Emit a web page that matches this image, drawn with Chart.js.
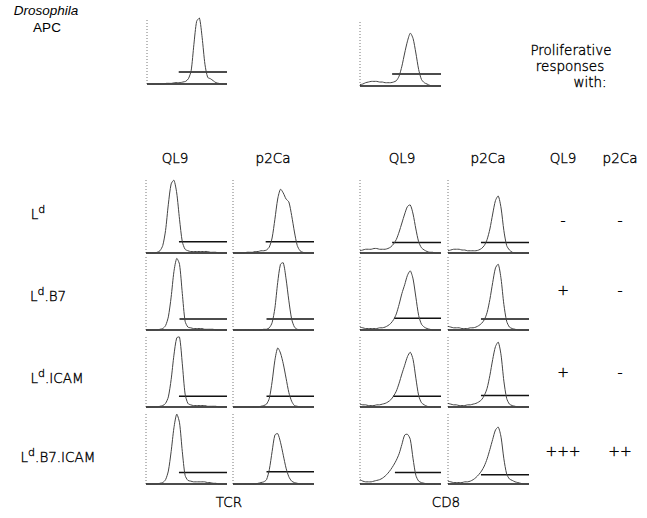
<!DOCTYPE html>
<html lang="en">
<head>
<meta charset="UTF-8">
<title>Drosophila APC proliferation</title>
<script src="https://cdn.jsdelivr.net/npm/chart.js"></script>
<style>
  body { margin: 0; background: #fff; }
  #fig { position: relative; width: 647px; height: 518px; overflow: hidden; font-family: "DejaVu Sans", sans-serif; font-weight: 200; color: #000; }
  #fig canvas { position: absolute; }
  .t { position: absolute; font-size: 13.5px; white-space: nowrap; transform: translate(-50%, -50%); -webkit-text-stroke: 0.35px #000; }
  .t sup { font-size: 11px; vertical-align: 6px; line-height: 0; }
  .apc { font-family: "Liberation Sans", Arial, sans-serif; font-weight: normal; font-size: 13.5px; -webkit-text-stroke: 0; }
  .sign { font-size: 14px; }
</style>
</head>
<body>
<div id="fig"></div>
<script>
// histogram channels (x) shared by every panel
const channels = [0,1,2,3,4,5,6,7,8,9,10,11,12,13,14,15,16,17,18,19,20,21,22,23,24,25,26,27,28,29];
const rowNames = ['L<sup>d</sup>', 'L<sup>d</sup>.B7', 'L<sup>d</sup>.ICAM', 'L<sup>d</sup>.B7.ICAM'];
const peptides = ['QL9', 'p2Ca'];
const responseQL9 = ['-', '+', '+', '+++'];
const responseP2Ca = ['-', '-', '-', '++'];

// Drosophila APC alone
const apcTCR = [0,0,0,0,0,0,0,1,1,1,2,2,2,3,4,8,20,60,95,100,70,30,10,8,5,2,1,0,0,0];
const apcCD8 = [2,3,5,6,7,7,7,6,6,5,5,5,6,8,15,30,50,68,80,72,50,25,10,5,3,1,0,0,0,0];
const apcGateStart = [11.5, 11.5];
const apcGateLevel = [18, 18];

// TCR, QL9 column (rows Ld, Ld.B7, Ld.ICAM, Ld.B7.ICAM)
const tcrQL9 = [
  [0,0,0,0,1,3,10,30,65,92,97,80,45,15,5,3,2,2,2,2,2,2,2,1,1,1,0,0,0,0],
  [0,0,0,0,0,1,2,6,18,45,80,98,90,50,12,4,3,2,2,2,2,1,1,1,1,0,0,0,0,0],
  [0,0,0,0,0,1,2,5,14,38,72,96,97,60,18,5,3,2,2,2,2,2,1,1,1,1,0,0,0,0],
  [0,0,0,0,0,1,2,6,18,45,78,97,85,45,12,5,4,3,3,3,3,3,2,2,1,1,0,0,0,0]
];
const tcrP2Ca = [
  [0,0,0,0,0,1,1,1,2,2,3,3,4,8,20,45,72,85,80,72,68,50,28,10,3,1,0,0,0,0],
  [0,0,0,0,0,0,0,0,0,0,0,1,1,3,10,30,65,90,92,70,40,15,4,1,0,0,0,0,0,0],
  [0,0,0,0,0,0,0,0,0,0,1,2,4,12,35,65,82,75,60,40,20,8,2,1,0,0,0,0,0,0],
  [0,0,0,0,0,0,0,0,0,1,2,3,6,20,45,68,70,58,40,22,10,4,2,1,0,0,0,0,0,0]
];
const cd8QL9 = [
  [3,4,5,5,5,6,6,5,5,5,6,8,12,18,28,40,52,62,64,52,32,15,7,4,2,1,1,0,0,0],
  [4,3,2,2,2,2,2,3,3,4,6,9,14,22,35,50,62,75,81,70,45,20,8,4,2,1,0,0,0,0],
  [4,3,3,2,2,2,3,3,4,5,7,10,15,22,33,46,58,70,76,66,40,16,6,3,1,0,0,0,0,0],
  [6,4,3,3,3,4,5,6,8,11,15,20,26,33,42,55,68,69,62,35,12,4,2,1,0,0,0,0,0,0]
];
const cd8P2Ca = [
  [3,4,5,5,5,4,4,3,3,3,3,4,6,10,18,32,52,70,76,60,30,10,4,1,0,0,0,0,0,0],
  [5,4,3,3,3,2,2,2,3,3,4,6,9,14,24,42,65,85,90,70,35,12,4,2,1,0,0,0,0,0],
  [5,4,3,3,2,2,2,3,3,4,5,7,10,16,26,44,66,84,90,72,36,12,4,2,1,0,0,0,0,0],
  [4,3,2,2,2,2,3,3,4,6,9,13,18,25,35,48,62,75,79,65,35,14,7,5,3,2,1,0,0,0]
];
// marker gates: start channel and height per panel
const gateStart = [[11.8,12,11.8,11.8], [11.7,12,12,12], [11.5,12.2,11.8,12.5], [11.8,11.8,11.8,11.8]];
const gateLevel = [[15,15,15,16], [15,15,15,17], [14,16,15,16], [14,15,16,13]];

// layout
const fig = document.getElementById('fig');
const colLeft = [146, 233, 360, 448];
const colW = 81;
const rowTop = [178, 257, 335, 412];
const rowBase = [253, 330, 407, 484];
const PAD = 2;

function panel(left, top, w, h, curve, gs, gl) {
  const c = document.createElement('canvas');
  c.width = w + PAD * 2; c.height = h + PAD * 2;
  c.style.left = (left - PAD) + 'px'; c.style.top = (top - PAD) + 'px';
  fig.appendChild(c);
  const last = channels[channels.length - 1];
  new Chart(c, {
    type: 'line',
    data: {
      datasets: [
        { data: channels.map((x, i) => ({ x, y: curve[i] })), borderColor: '#444', borderWidth: 1, tension: 0.25 },
        { data: [{ x: gs, y: gl }, { x: last, y: gl }], borderColor: '#111', borderWidth: 1.5 },
        { data: [{ x: 0, y: 0 }, { x: last, y: 0 }], borderColor: '#111', borderWidth: 1.5 },
        { data: [{ x: 0, y: 0 }, { x: 0, y: 100 }], borderColor: '#777', borderWidth: 1, borderDash: [1, 2] }
      ]
    },
    options: {
      responsive: false, animation: false, clip: false,
      layout: { padding: PAD },
      elements: { point: { radius: 0 } },
      plugins: { legend: { display: false }, tooltip: { enabled: false } },
      scales: {
        x: { type: 'linear', min: 0, max: last, display: false },
        y: { min: 0, max: 100, display: false }
      }
    }
  });
}

function text(html, x, y, cls) {
  const d = document.createElement('div');
  d.className = 't' + (cls ? ' ' + cls : '');
  d.innerHTML = html;
  d.style.left = x + 'px'; d.style.top = y + 'px';
  fig.appendChild(d);
}

// top row
panel(147, 18, 80, 66, apcTCR, apcGateStart[0], apcGateLevel[0]);
panel(360, 20, 81, 66, apcCD8, apcGateStart[1], apcGateLevel[1]);
text('<i>Drosophila</i>', 46, 10, 'apc');
text('APC', 47, 27, 'apc');
text('Proliferative', 571, 50);
text('responses', 570, 66);
text('with:', 590, 82);

// grid
const columns = [tcrQL9, tcrP2Ca, cd8QL9, cd8P2Ca];
columns.forEach((col, ci) => {
  col.forEach((curve, ri) => {
    panel(colLeft[ci], rowTop[ri], colW, rowBase[ri] - rowTop[ri], curve, gateStart[ci][ri], gateLevel[ci][ri]);
  });
});

const headX = [175, 273, 402, 488, 563, 620];
headX.forEach((x, i) => text(peptides[i % 2], x, 158));
const labelX = [38, 48, 57, 58];
const labelY = [214, 296, 378, 457];
rowNames.forEach((n, i) => text(n, labelX[i], labelY[i]));
responseQL9.forEach((s, i) => text(s, 563, labelY[i] + (i === 0 ? 6 : -6), 'sign'));
responseP2Ca.forEach((s, i) => text(s, 620, labelY[i] + (i === 0 ? 6 : -6), 'sign'));
text('TCR', 229, 502);
text('CD8', 446, 502);
</script>
</body>
</html>
